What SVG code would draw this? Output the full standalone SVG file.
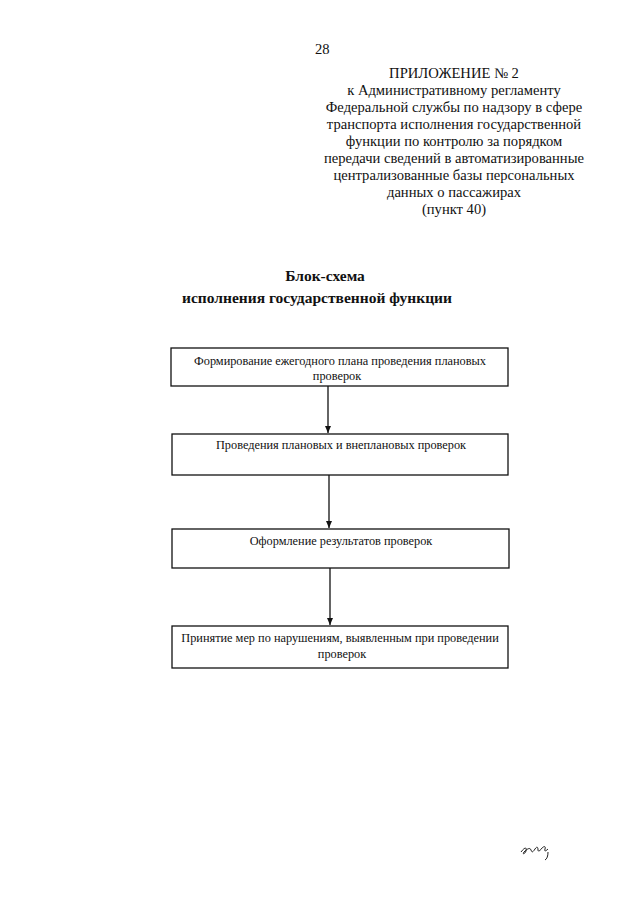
<svg xmlns="http://www.w3.org/2000/svg" width="640" height="905" viewBox="0 0 640 905">
<defs>
<style>
.t{font-family:"Liberation Serif","Times New Roman",serif;fill:#111}
.h{font-size:14.6px}
.hb{font-size:15.5px;font-weight:bold}
.b{font-size:12.3px}
.box{fill:none;stroke:#111;stroke-width:1.3}
.con{stroke:#111;stroke-width:1.3;fill:none}
</style>
<marker id="ah" markerWidth="8" markerHeight="8" refX="7" refY="4" orient="auto" markerUnits="userSpaceOnUse">
<path d="M0,1 L7,4 L0,7 Z" fill="#111"/>
</marker>
</defs>
<rect width="640" height="905" fill="#fff"/>
<g id="header">
<text class="t h" x="315" y="54">28</text>
<g text-anchor="middle">
<text class="t h" x="454" y="78">ПРИЛОЖЕНИЕ № 2</text>
<text class="t h" x="454" y="95">к Административному регламенту</text>
<text class="t h" x="454" y="112">Федеральной службы по надзору в сфере</text>
<text class="t h" x="454" y="129">транспорта исполнения государственной</text>
<text class="t h" x="454" y="146">функции по контролю за порядком</text>
<text class="t h" x="454" y="163">передачи сведений в автоматизированные</text>
<text class="t h" x="454" y="180">централизованные базы персональных</text>
<text class="t h" x="454" y="197">данных о пассажирах</text>
<text class="t h" x="454" y="214">(пункт 40)</text>
</g>
</g>
<g id="title" text-anchor="middle">
<text class="t hb" x="325" y="281">Блок-схема</text>
<text class="t hb" x="317" y="303">исполнения государственной функции</text>
</g>
<g id="n1">
<rect class="box" x="171" y="348" width="337" height="38"/>
<text class="t b" x="340" y="365" text-anchor="middle">Формирование ежегодного плана проведения плановых</text>
<text class="t b" x="337" y="380" text-anchor="middle">проверок</text>
</g>
<g id="n2">
<rect class="box" x="172" y="434" width="336" height="41"/>
<text class="t b" x="341" y="449" text-anchor="middle">Проведения плановых и внеплановых проверок</text>
</g>
<g id="n3">
<rect class="box" x="172" y="529" width="337" height="39"/>
<text class="t b" x="341" y="545" text-anchor="middle">Оформление результатов проверок</text>
</g>
<g id="n4">
<rect class="box" x="172" y="626" width="336" height="42"/>
<text class="t b" x="340" y="642" text-anchor="middle">Принятие мер по нарушениям, выявленным при проведении</text>
<text class="t b" x="342" y="658" text-anchor="middle">проверок</text>
</g>
<g id="connectors">
<line class="con" x1="328" y1="386" x2="328" y2="433" marker-end="url(#ah)"/>
<line class="con" x1="329" y1="475" x2="329" y2="528" marker-end="url(#ah)"/>
<line class="con" x1="330" y1="568" x2="330" y2="625" marker-end="url(#ah)"/>
</g>
<g id="signature">
<path d="M521,852 c3,-4 6,-6 5,-1 c-1,3 -4,4 -2,1 c3,-3 6,-5 7,-2 c1,3 2,2 4,-1 c2,-3 3,-2 3,1 c0,2 2,1 4,-2 c2,-2 4,-2 3,1 c-1,3 1,2 3,0 M548,852 c0,4 -1,7 -3,8" fill="none" stroke="#222" stroke-width="1"/>
</g>
</svg>
